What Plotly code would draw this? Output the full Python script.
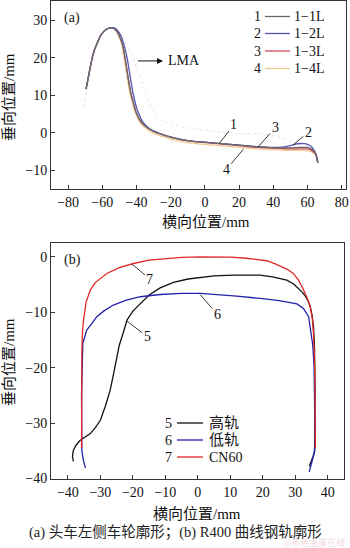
import plotly.graph_objects as go

# ---------------- Panel (a): wheel profiles ----------------
x_w1 = [-69.5, -67.5, -65.4, -63, -60.5, -58, -55.5, -53, -51, -49.5, -48, -46.7, -45.5, -44.3, -43, -42, -41, -40, -38, -36, -34, -32, -29, -26, -22, -18, -14, -10, -5, 0, 5, 10, 20, 30, 40, 45, 50, 55, 58, 60, 62, 63.5, 64.8, 65.5, 66]
y_w1 = [11.7, 16.5, 21, 24, 26.3, 27.5, 28, 27.8, 26.8, 25.3, 23.3, 20, 16.5, 13, 10, 8.3, 6.6, 5.2, 3.4, 2.3, 1.5, 0.9, 0.2, -0.3, -0.9, -1.4, -1.8, -2.1, -2.35, -2.5, -2.7, -2.9, -3.3, -3.7, -4.0, -4.0, -4.0, -3.9, -3.9, -3.9, -4.3, -4.8, -5.6, -6.6, -8.0]

x_w2 = [-69.5, -67.5, -65.4, -63, -60.5, -58, -55.5, -53, -51, -49, -47.5, -45.5, -44.2, -43, -42, -41, -40, -39, -37.5, -36, -34, -32, -29, -26, -22, -18, -14, -10, -5, 0, 5, 10, 20, 30, 40, 45, 50, 53, 56, 58, 60, 62, 63.5, 64.8, 65.5, 66]
y_w2 = [11.7, 16.5, 21, 24, 26.3, 27.5, 28, 28, 27.3, 25.8, 23.8, 20, 16.5, 13, 10.5, 8.5, 6.8, 5.5, 3.9, 2.7, 1.7, 1.0, 0.3, -0.25, -0.85, -1.35, -1.75, -2.1, -2.35, -2.5, -2.7, -2.9, -3.3, -3.7, -3.9, -3.8, -3.4, -3.0, -2.85, -2.9, -3.1, -3.6, -4.4, -5.5, -6.6, -8.0]

x_w3 = [-69.5, -67.5, -65.4, -63, -60.5, -58, -55.5, -53, -51, -49.5, -48, -46.7, -45.5, -44.3, -43, -42, -41, -40, -38, -36, -34, -32, -29, -26, -22, -18, -14, -10, -5, 0, 5, 10, 20, 30, 40, 45, 50, 55, 58, 60, 62, 63.5, 64.8, 65.5, 66]
y_w3 = [11.7, 16.5, 21, 24, 26.3, 27.5, 28, 27.8, 26.8, 25.3, 23.3, 20, 16.5, 13, 10, 8.3, 6.6, 5.2, 3.4, 2.3, 1.5, 0.9, 0.2, -0.3, -0.9, -1.4, -1.8, -2.1, -2.4, -2.6, -2.8, -3.0, -3.4, -3.9, -4.1, -4.2, -4.3, -4.3, -4.3, -4.3, -4.6, -5.1, -5.8, -6.8, -8.0]

x_w4 = [-69.5, -67.5, -65.4, -63, -60.5, -58, -55.5, -53.5, -51.5, -50, -48.5, -47.3, -46, -44.8, -43.6, -42.5, -41.5, -40.5, -38.5, -36.5, -34, -32, -29, -26, -22, -18, -14, -10, -5, 0, 5, 10, 20, 30, 40, 45, 50, 55, 58, 60, 62, 63.5, 64.8, 65.5, 66]
y_w4 = [11.7, 16.5, 21, 24, 26.3, 27.5, 28, 27.8, 26.8, 25.3, 23.3, 20, 16.5, 13, 10, 8.3, 6.6, 5.2, 3.2, 2.0, 1.0, 0.4, -0.3, -0.8, -1.4, -1.9, -2.3, -2.6, -2.9, -3.1, -3.3, -3.5, -3.9, -4.3, -4.5, -4.6, -4.7, -4.7, -4.7, -4.8, -5.0, -5.4, -6.0, -6.9, -8.0]

x_lma = [-70.8, -68.5, -66, -63, -60.5, -58, -55.5, -52, -48, -44, -40, -36, -33, -30, -26, -20, -10, -1, 10, 20, 32, 38, 44, 51.6, 56, 60, 62, 64, 65.5, 66]
y_lma = [6.8, 13, 18.5, 23, 26, 27.5, 28, 27.5, 25.5, 22, 17.4, 12.1, 8.5, 6.0, 3.6, 2.2, 1.3, 0.8, 0.2, -0.2, -0.2, -0.7, -1.2, -2.5, -3.2, -3.6, -4.0, -4.8, -6.2, -8.0]

wheel_names = ["1−1L", "1−2L", "1−3L", "1−4L"]
wheel_ids = ["1", "2", "3", "4"]
wheel_colors = ["#6a6a6a", "#5555b5", "#cc4a5a", "#efc98e"]

# ---------------- Panel (b): rail profiles ----------------
x_high = [-38.3, -38.6, -38.3, -37.5, -36.2, -34.5, -33.1, -31.5, -30, -28.5, -27, -26, -25.2, -24.2, -23, -21.8, -20, -17.7, -15, -11.6, -7.5, -3, 0.7, 5, 11, 16, 19.2, 23, 27.4, 29.5, 31, 32.2, 33.2, 34, 34.6, 35.2, 35.6, 35.9, 36.1, 36.2, 36.0, 35.5, 35.0, 34.3]
y_high = [-36.9, -36.0, -34.9, -34.0, -33.1, -32.5, -31.9, -30.8, -29.5, -27.0, -24.1, -21.3, -18.6, -16.0, -13.8, -11.4, -9.8, -8.4, -6.9, -5.6, -4.6, -4.0, -3.7, -3.45, -3.3, -3.25, -3.3, -3.6, -4.2, -4.9, -5.7, -6.4, -7.2, -8.0, -9.0, -10.6, -12.6, -16, -24, -33.5, -35.0, -36.0, -36.8, -37.8]

x_low = [-34.6, -35.2, -35.7, -35.8, -35.4, -34.2, -32.6, -31.1, -29, -26, -22, -17.7, -11.6, -5, 0.7, 6, 12, 19.2, 25, 30.5, 32.5, 34.1, 34.8, 35.4, 35.8, 36.0, 36.1, 35.8, 35.3, 34.8, 34.3]
y_low = [-38.1, -36.8, -35.0, -25.0, -15.6, -13.2, -12.0, -10.8, -9.8, -8.7, -7.8, -7.2, -6.8, -6.6, -6.6, -6.8, -7.1, -7.5, -7.9, -8.5, -9.3, -10.8, -13.2, -16, -20, -26, -33.5, -35.5, -36.8, -37.8, -38.8]

x_cn60 = [-35.8, -35.8, -35.7, -35.5, -35.2, -34.4, -33.1, -31.5, -28, -24, -19.8, -15, -9.5, -5, 0.7, 5, 10, 15, 21.2, 24, 27.4, 29.4, 31, 32.5, 33.8, 34.6, 35.2, 35.6, 35.9, 36.1, 36.2]
y_cn60 = [-34.5, -25, -17, -13.5, -11.5, -8.2, -6.0, -4.6, -3.0, -1.9, -1.2, -0.6, -0.3, -0.1, 0, 0, -0.05, -0.25, -0.7, -1.3, -2.2, -3.0, -4.2, -5.9, -7.6, -9.0, -11.0, -13.8, -18, -26, -34.5]

rail_x = [x_high, x_low, x_cn60]
rail_y = [y_high, y_low, y_cn60]
rail_ids = ["5", "6", "7"]
rail_names = ["高轨", "低轨", "CN60"]
rail_colors = ["#111111", "#2222aa", "#e02828"]

ticks_a_x = [-80, -60, -40, -20, 0, 20, 40, 60, 80]
ticks_a_y = [-10, 0, 10, 20, 30]
ticks_b_x = [-40, -30, -20, -10, 0, 10, 20, 30, 40]
ticks_b_y = [-40, -30, -20, -10, 0]

FONT = "Liberation Serif, 'Noto Sans CJK SC', serif"
W, H = 350, 548

fig = go.Figure()

fig.add_trace(go.Scatter(x=x_lma, y=y_lma, mode="lines", xaxis="x", yaxis="y",
                         line=dict(color="#e6e3ec", width=1, dash="dot", shape="spline", smoothing=0.5),
                         showlegend=False))
for xs, ys, c in zip([x_w4, x_w3, x_w2, x_w1], [y_w4, y_w3, y_w2, y_w1], wheel_colors[::-1]):
    fig.add_trace(go.Scatter(x=xs, y=ys, mode="lines", xaxis="x", yaxis="y",
                             line=dict(color=c, width=1.3, shape="spline", smoothing=0.4),
                             showlegend=False))

for xs, ys, c in zip(rail_x, rail_y, rail_colors):
    fig.add_trace(go.Scatter(x=xs, y=ys, mode="lines", xaxis="x2", yaxis="y2",
                             line=dict(color=c, width=1.3),
                             showlegend=False))

axis_common = dict(showgrid=False, zeroline=False, showline=True, mirror=True,
                   linecolor="#333333", linewidth=1, ticks="inside", ticklen=4,
                   tickcolor="#333333", tickfont=dict(family=FONT, size=14, color="#111"),
                   automargin=False)

fig.update_layout(
    width=W, height=H, margin=dict(l=0, r=0, t=0, b=0),
    template="none", paper_bgcolor="white", plot_bgcolor="white",
    xaxis=dict(domain=[51 / W, 346 / W], range=[-90, 82.5], tickvals=ticks_a_x,
               anchor="y", **axis_common),
    yaxis=dict(domain=[359 / H, 547 / H], range=[-15, 35.2], tickvals=ticks_a_y,
               anchor="x", **axis_common),
    xaxis2=dict(domain=[51 / W, 344 / W], range=[-45.2, 45], tickvals=ticks_b_x,
                anchor="y2", **axis_common),
    yaxis2=dict(domain=[69 / H, 305 / H], range=[-40.1, 2.5], tickvals=ticks_b_y,
                anchor="x2", **axis_common),
)

ann = []
shapes = []
tf = dict(family=FONT, size=14, color="#111")
tfc = dict(family=FONT, size=15, color="#111")


def pa(text, px, py, font, xanchor="center", **kw):
    return dict(text=text, x=px / W, y=1 - py / H, xref="paper", yref="paper",
                xanchor=xanchor, yanchor="middle", showarrow=False, font=font, **kw)


# Axis titles
ann.append(pa("横向位置/mm", 206, 222, tfc))
ann.append(pa("垂向位置/mm", 9, 97, tfc, textangle=-90))
ann.append(pa("横向位置/mm", 197, 514, tfc))
ann.append(pa("垂向位置/mm", 9, 362, tfc, textangle=-90))
ann.append(pa("(a) 头车左侧车轮廓形；(b) R400 曲线钢轨廓形", 175, 532,
              dict(family=FONT, size=14.5, color="#222")))
ann.append(pa("@有色金属在线", 314, 542.5,
              dict(family=FONT, size=9, color="rgba(230,170,180,0.45)")))

# Panel labels
ann.append(pa("(a)", 62, 18, tf, xanchor="left"))
ann.append(pa("(b)", 62, 260, tf, xanchor="left"))

# Legend (a)
leg_a_y = [16.5, 33.5, 51, 68.5]
for i in range(4):
    py = leg_a_y[i]
    ann.append(pa(wheel_ids[i], 263, py, tf, xanchor="right"))
    ann.append(pa(wheel_names[i], 292, py, tf, xanchor="left"))
    shapes.append(dict(type="line", xref="paper", yref="paper", x0=265 / W, x1=290 / W,
                       y0=1 - py / H, y1=1 - py / H, line=dict(color=wheel_colors[i], width=1.3)))

# Legend (b)
leg_b_y = [423, 440, 457]
for i in range(3):
    py = leg_b_y[i]
    ann.append(pa(rail_ids[i], 174, py, tf, xanchor="right"))
    ann.append(pa(rail_names[i], 207, py, tfc if i < 2 else tf, xanchor="left"))
    shapes.append(dict(type="line", xref="paper", yref="paper", x0=177 / W, x1=203 / W,
                       y0=1 - py / H, y1=1 - py / H, line=dict(color=rail_colors[i], width=1.3)))

# Curve labels with leader lines (a)
lead_a = [("1", 8.3, -2.9, 17, 2.2), ("3", 31, -3.8, 41, 1.3),
          ("2", 51.5, -3.3, 60.5, 0.2), ("4", 22.5, -4.4, 12.5, -9.8)]
for t, px, py, tx, ty in lead_a:
    ann.append(dict(text=t, x=px, y=py, ax=tx, ay=ty, xref="x", yref="y", axref="x", ayref="y",
                    showarrow=True, arrowhead=0, arrowwidth=0.9, arrowcolor="#222", font=tf))

# LMA arrow
ann.append(dict(text="", x=-24.5, y=19.2, ax=-40, ay=19.2, xref="x", yref="y", axref="x", ayref="y",
                showarrow=True, arrowhead=2, arrowsize=1.2, arrowwidth=1, arrowcolor="#111"))
ann.append(dict(text="LMA", x=-23, y=19.4, xref="x", yref="y", xanchor="left", yanchor="middle",
                showarrow=False, font=tf))

# Curve labels with leader lines (b)
lead_b = [("7", -20.3, -1.3, -14.8, -4.0), ("6", 0.7, -6.8, 6.0, -10.4),
          ("5", -21.8, -11.6, -15.6, -14.4)]
for t, px, py, tx, ty in lead_b:
    ann.append(dict(text=t, x=px, y=py, ax=tx, ay=ty, xref="x2", yref="y2", axref="x2", ayref="y2",
                    showarrow=True, arrowhead=0, arrowwidth=0.9, arrowcolor="#222", font=tf))

fig.update_layout(annotations=ann, shapes=shapes)
fig.write_html("out.html")
